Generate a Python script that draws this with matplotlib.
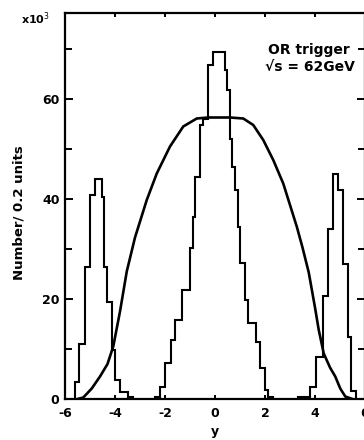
import matplotlib
matplotlib.use("Agg")
import matplotlib.pyplot as plt
from matplotlib.ticker import FixedLocator

# ---- data ----
central_edges = [-2.4, -2.2, -2.0, -1.77, -1.6, -1.33, -1.0, -0.87, -0.8, -0.6, -0.47,
                 -0.27, -0.07, 0.4, 0.47, 0.6, 0.67, 0.8, 0.93, 1.0, 1.2, 1.33, 1.64,
                 1.8, 2.0, 2.13, 2.3]
central_counts = [0.5, 2.5, 7.2, 11.8, 15.8, 21.8, 30.2, 36.5, 44.5, 54.8, 56.0, 66.8,
                  69.5, 65.8, 61.8, 52.0, 46.5, 41.8, 34.5, 27.2, 19.8, 15.2, 11.5, 6.2,
                  1.8, 0.5]

left_edges = [-5.6, -5.45, -5.2, -5.0, -4.8, -4.53, -4.45, -4.33, -4.13, -4.0, -3.8, -3.5, -3.3]
left_counts = [3.5, 11.0, 26.5, 40.8, 44.0, 40.5, 26.5, 19.5, 9.8, 3.8, 1.5, 0.5]

right_edges = [3.3, 3.8, 4.05, 4.3, 4.5, 4.73, 4.93, 5.13, 5.3, 5.45, 5.62]
right_counts = [0.5, 2.5, 8.5, 20.7, 34.0, 45.0, 41.8, 27.1, 12.5, 1.7]

curve_y = [-5.5, -5.27, -4.93, -4.6, -4.3, -4.07, -3.8, -3.53, -3.2, -2.73, -2.33, -1.8,
           -1.27, -0.73, -0.27, 0.6, 1.13, 1.53, 1.93, 2.33, 2.73, 3.27, 3.5, 3.75,
           4.0, 4.15, 4.35, 4.6, 4.81, 5.01, 5.21, 5.5]
curve_n = [0.0, 0.3, 2.1, 4.5, 7.0, 10.5, 17.5, 25.5, 32.3, 39.8, 45.1, 50.5,
           54.5, 56.1, 56.3, 56.3, 56.1, 54.8, 51.8, 47.8, 43.1, 34.5, 30.3, 25.3,
           18.3, 13.8, 9.1, 6.3, 4.5, 2.1, 0.5, 0.0]

x_major = [-6, -4, -2, 0, 2, 4, 6]
x_labels = ["-6", "-4", "-2", "0", "2", "4", "6"]
y_major = [0, 20, 40, 60]
y_minor = [10, 30, 50, 70]

FONT = ['DejaVu Sans']

fig = plt.figure(figsize=(3.64, 4.40), dpi=100)
ax = fig.add_axes([65/364, 41/440, 300/364, 386/440])

lw = 1.5
for e, c in [(central_edges, central_counts), (left_edges, left_counts), (right_edges, right_counts)]:
    ax.stairs(c, e, baseline=0, color='black', lw=lw)
ax.plot(curve_y, curve_n, color='black', lw=1.9, solid_capstyle='round', solid_joinstyle='round')

ax.set_xlim(-6, 6)
ax.set_ylim(0, 77.2)

for s in ax.spines.values():
    s.set_linewidth(1.6)

ax.xaxis.set_major_locator(FixedLocator(x_major))
ax.set_xticklabels(x_labels)
ax.yaxis.set_major_locator(FixedLocator(y_major))
ax.yaxis.set_minor_locator(FixedLocator(y_minor))
ax.tick_params(axis='both', which='both', direction='in', width=1.4, colors='black')
ax.tick_params(axis='y', which='major', length=6, pad=4, labelsize=9)
ax.tick_params(axis='y', which='minor', length=5)
ax.tick_params(axis='x', which='major', length=3, pad=6, labelsize=9, top=True)
ax.tick_params(axis='y', which='both', right=True)
for lab in ax.get_xticklabels() + ax.get_yticklabels():
    lab.set_fontweight('bold')
    lab.set_family(FONT)

ax.text(-0.153, 0.484, "Number/ 0.2 units", rotation=90, transform=ax.transAxes,
        ha='center', va='center', fontsize=9.5, fontweight='bold', family=FONT)
ax.text(0.5, -0.085, "y", transform=ax.transAxes, ha='center', va='center',
        fontsize=9, fontweight='bold', family=FONT)
ax.text(-0.097, 0.985, r"x10$^3$", transform=ax.transAxes, ha='center', va='center',
        fontsize=8, fontweight='bold', family=FONT)
ax.text(0.677, 0.904, "OR trigger", transform=ax.transAxes, ha='left', va='center',
        fontsize=10, fontweight='bold', family=FONT)
ax.text(0.667, 0.86, "\u221as = 62GeV", transform=ax.transAxes, ha='left', va='center',
        fontsize=10, fontweight='bold', family=FONT)

fig.savefig("out.png", dpi=100)
